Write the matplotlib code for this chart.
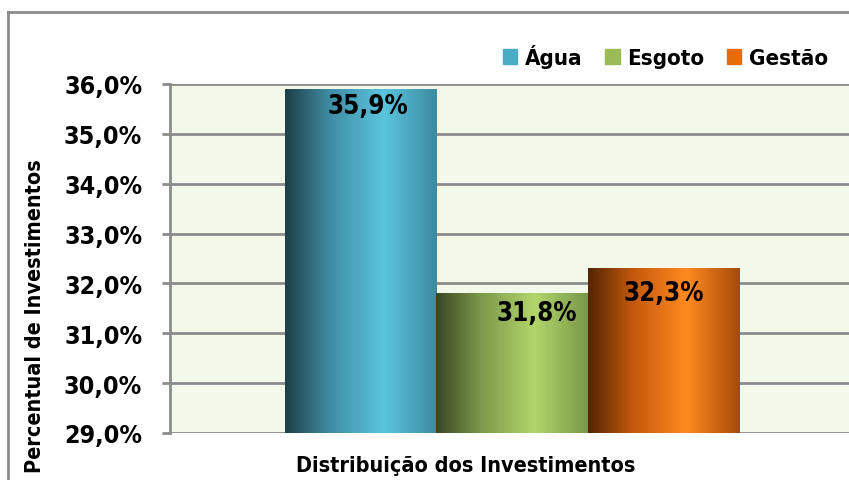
import matplotlib
matplotlib.use("Agg")
import matplotlib.pyplot as plt
import matplotlib.font_manager as fm
import numpy as np
from matplotlib.colors import LinearSegmentedColormap
from matplotlib.patches import Rectangle
from matplotlib.lines import Line2D
from matplotlib.ticker import FuncFormatter

# the original uses a bold condensed face; take one if installed, else Liberation Sans
narrow = [f for f in fm.fontManager.ttflist
          if ('Narrow' in f.name or 'Condensed' in f.name
              or f.stretch in ('condensed', 'semi-condensed', 'extra-condensed'))
          and f.weight in (600, 700, 800, 'bold', 'semibold')]
if narrow:
    plt.rcParams['font.family'] = [narrow[0].name, 'DejaVu Sans']
    plt.rcParams['font.stretch'] = narrow[0].stretch
    k = 1.0
else:
    plt.rcParams['font.family'] = ['Liberation Sans', 'DejaVu Sans']
    k = 0.86
plt.rcParams['font.weight'] = 'bold'

series = ['Água', 'Esgoto', 'Gestão']
values = [35.9, 31.8, 32.3]
value_labels = ['35,9%', '31,8%', '32,3%']
yticks = [29, 30, 31, 32, 33, 34, 35, 36]

# legend colour, then dark / mid / light / side tones of the shaded bar
colors = ['#4bacc6', '#9bbb59', '#e46c0a']
shades = [
    ['#1e3f48', '#3f8ea5', '#5bc4de', '#3d8ba0'],
    ['#3a4722', '#7e9a4b', '#b2d66b', '#7a9748'],
    ['#552505', '#c45a0c', '#ff8a20', '#a54a0a'],
]
# label offsets (points) from the top of each bar
label_offsets = [(5, -12), (18, -14), (0, -18)]

fig = plt.figure(figsize=(8.49, 4.81), dpi=100)
ax = fig.add_axes([170 / 849, 1 - 434 / 481, 1 - 170 / 849, (434 - 85) / 481])
ax.set_facecolor('#f3f9ea')

xpos = np.arange(len(series))
bars = ax.bar(xpos, [v - 29 for v in values], width=1.0, bottom=29,
              color=colors, zorder=2)

for b, sh in zip(bars, shades):
    cmap = LinearSegmentedColormap.from_list('g', list(zip([0, 0.3, 0.65, 1.0], sh)))
    grad = np.linspace(0, 1, 256).reshape(1, -1)
    x0 = b.get_x()
    w = b.get_width()
    im = ax.imshow(grad, cmap=cmap, aspect='auto', zorder=3,
                   extent=[x0, x0 + w, 29, b.get_y() + b.get_height()])
    im.set_clip_path(b)

for b, lab, off in zip(bars, value_labels, label_offsets):
    ax.annotate(lab, (b.get_x() + b.get_width() / 2, b.get_y() + b.get_height()),
                xytext=off, textcoords='offset points', ha='center', va='center',
                fontsize=18.5 * k, fontweight='bold', color='black', zorder=5)

ax.set_xlim(-1.259, 3.223)
ax.set_ylim(29, 36)
ax.set_yticks(yticks)
ax.yaxis.set_major_formatter(FuncFormatter(lambda v, p: f'{v:.1f}%'.replace('.', ',')))
ax.set_xticks([])
ax.grid(axis='y', color='#8c8c8c', linewidth=2, zorder=1)
ax.set_axisbelow(True)
for s in ['top', 'right', 'bottom']:
    ax.spines[s].set_visible(False)
ax.spines['left'].set_color('#8c8c8c')
ax.spines['left'].set_linewidth(2)
ax.tick_params(axis='y', length=6, width=2, color='#8c8c8c', pad=14, labelsize=18 * k)
for t in ax.get_yticklabels():
    t.set_fontweight('bold')

# outer chart border
fig.add_artist(Line2D([8 / 849, 8 / 849], [0, 1 - 13 / 481], color='#8c8c8c', lw=2))
fig.add_artist(Line2D([8 / 849, 1], [1 - 13 / 481, 1 - 13 / 481], color='#8c8c8c', lw=2))

fig.text(466 / 849, 1 - 466 / 481, 'Distribuição dos Investimentos', ha='center', va='center',
         fontsize=15.5 * k, fontweight='bold')
fig.text(35 / 849, 1 - 316 / 481, 'Percentual de Investimentos', ha='center', va='center',
         rotation=90, fontsize=15.5 * k, fontweight='bold')

handles = [Rectangle((0, 0), 1, 1, color=c) for c in colors]
fig.legend(handles, series, loc='center right', bbox_to_anchor=(848 / 849, 1 - 57 / 481),
           ncol=3, frameon=False, handlelength=0.65, handleheight=0.65,
           handletextpad=0.35, columnspacing=1.0, prop={'weight': 'bold', 'size': 16 * k})

fig.savefig('out.png', dpi=100)
